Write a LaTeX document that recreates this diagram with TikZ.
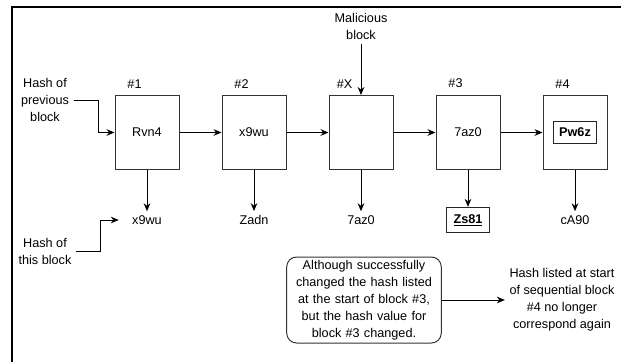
\documentclass[tikz,border=0pt]{standalone}
\usepackage{fontspec}
\setmainfont{Liberation Sans}
\usetikzlibrary{arrows.meta, positioning}
\newcommand{\hashfont}{\fontsize{9.5}{12.75}\selectfont}
\tikzset{
    hashblock/.style={rectangle, draw=black!80, line width=0.75pt, minimum width=48pt, minimum height=55.5pt, inner sep=0pt},
    inbox/.style={rectangle, draw=black!85, line width=0.75pt, minimum width=32pt, minimum height=16pt, inner sep=0pt, font=\hashfont\bfseries},
    blocktag/.style={inner sep=1pt},
    hashout/.style={minimum width=42pt, inner sep=3pt},
    note/.style={rectangle, draw=black!80, line width=0.75pt, rounded corners=7.5pt, text width=112pt, align=center, minimum height=64.5pt, inner sep=2pt},
    txt/.style={align=center},
    arrow/.style={-{Stealth[length=6pt, width=5pt]}, line width=0.75pt},
}

\begin{document}
\begin{tikzpicture}[x=0.75pt, y=-0.75pt, node distance=31.5pt, every node/.style={font=\hashfont}]
    \useasboundingbox (0,0) rectangle (621,362);
    % Frame
    \draw[line width=1.5pt] (12,362) -- (12,7) -- (621,7);

    % Chain of blocks
    \node[hashblock] (b1) at (147,132.5) {Rvn4};
    \node[hashblock, right=of b1] (b2) {x9wu};
    \node[hashblock, right=of b2] (bx) {};
    \node[hashblock, right=of bx] (b3) {7az0};
    \node[hashblock, right=of b3] (b4) {};
    \node[inbox] (pw) at (b4) {Pw6z};

    % Block numbers
    \node[blocktag, above=4pt of b1.north west, xshift=15pt] (t1) {\#1};
    \node[blocktag, above=4pt of b2.north west, xshift=15pt] (t2) {\#2};
    \node[blocktag, above=4pt of bx.north west, xshift=12pt] (tx) {\#X};
    \node[blocktag, above=4pt of b3.north west, xshift=15pt] (t3) {\#3};
    \node[blocktag, above=4pt of b4.north west, xshift=15pt] (t4) {\#4};

    % Hash of each block
    \coordinate (row) at (0,220);
    \node[hashout] (o1) at (b1 |- row) {x9wu};
    \node[hashout] (o2) at (b2 |- row) {Zadn};
    \node[hashout] (ox) at (bx |- row) {7az0};
    \node[inbox, minimum height=19pt] (o3) at (b3 |- row) {\underline{Zs81}};
    \node[hashout] (o4) at (b4 |- row) {cA90};

    % Side texts
    \node[txt] (prev) at (45,100) {Hash of\\previous\\block};
    \node[txt] (this) at (45,251) {Hash of\\this block};
    \node[txt, above=38pt of bx] (mal) {Malicious\\block};

    % Note and consequence
    \node[note] (note) at (364,300) {Although successfully\\changed the hash listed\\at the start of block \#3,\\but the hash value for\\block \#3 changed.};
    \node[txt] (cons) at (562,300) {Hash listed at start\\of sequential block\\\#4 no longer\\correspond again};

    % Arrows along the chain
    \draw[arrow] (prev.east) -| ([xshift=-12pt]b1.west) -- (b1.west);
    \draw[arrow] (b1) -- (b2);
    \draw[arrow] (b2) -- (bx);
    \draw[arrow] (bx) -- (b3);
    \draw[arrow] (b3) -- (b4);
    \draw[arrow] (mal) -- (bx);
    % Blocks down to their hashes
    \draw[arrow] (b1) -- (o1);
    \draw[arrow] (b2) -- (o2);
    \draw[arrow] (bx) -- (ox);
    \draw[arrow] (b3) -- (o3);
    \draw[arrow] (b4) -- (o4);
    \draw[arrow] (this.east) -| ([xshift=-13.5pt]o1.west) -- (o1.west);
    \draw[arrow] (note) -- (cons);
\end{tikzpicture}
\end{document}
